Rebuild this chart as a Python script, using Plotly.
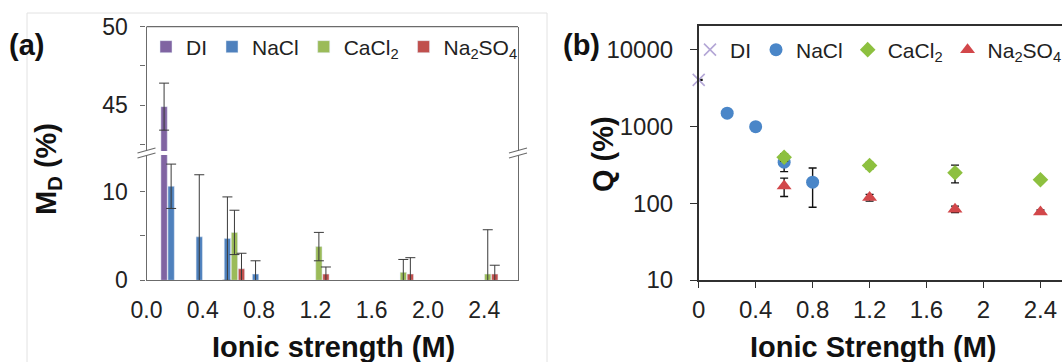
import plotly.graph_objects as go

W, H = 1062, 362

# ---------------- Panel (a): M_D (%) ----------------
ionic_di_a = [0.2]
md_di = [44.9]
md_di_err = [1.5]

ionic_nacl_a = [0.2, 0.4, 0.6, 0.8]
md_nacl = [10.6, 4.9, 4.7, 0.7]
md_nacl_err = [2.5, 7.0, 4.7, 1.5]

ionic_cacl2_a = [0.6, 1.2, 1.8, 2.4]
md_cacl2 = [5.4, 3.8, 0.9, 0.7]
md_cacl2_err = [2.5, 1.6, 1.45, 5.0]

ionic_na2so4_a = [0.6, 1.2, 1.8, 2.4]
md_na2so4 = [1.3, 0.7, 0.7, 0.7]
md_na2so4_err = [1.75, 0.8, 1.85, 1.0]

# ---------------- Panel (b): Q (%) ----------------
ionic_di_b = [0.0]
q_di = [4070]
q_di_err = [60]

ionic_nacl_b = [0.2, 0.4, 0.6, 0.8]
q_nacl = [1500, 1000, 344, 189]
q_nacl_err = [0, 0, 85, 100]

ionic_salt_b = [0.6, 1.2, 1.8, 2.4]
q_cacl2 = [399, 312, 250, 203]
q_cacl2_err = [45, 30, 65, 5]
q_na2so4 = [168, 119, 84, 77]
q_na2so4_err = [45, 12, 8, 5]

x_tickvals = [0, 0.4, 0.8, 1.2, 1.6, 2.0, 2.4]
x_ticktext_a = ["0.0", "0.4", "0.8", "1.2", "1.6", "2.0", "2.4"]
x_ticktext_b = ["0", "0.4", "0.8", "1.2", "1.6", "2", "2.4"]
y_tickvals_low = [0, 10]
y_minor_low = [5]
y_tickvals_up = [45, 50]
y_minor_up = [42.5, 47.5]
y_tickvals_b = [10, 100, 1000, 10000]
y_ticktext_b = ["10", "100", "1000", "10000"]

FONT = "Liberation Sans, Arial, sans-serif"
C_DI, C_NA, C_CA, C_SO = "#8064A2", "#4F81BD", "#9BBB59", "#C0504D"
C2_DI, C2_NA, C2_CA, C2_SO = "#B4A7D6", "#4A86C8", "#8DC03F", "#D2474A"
AX_A = "#6b6b6b"
AX_B = "#303030"


def px(x):
    return x / W


def py(y):
    return 1 - y / H


BW = 0.045          # bar width (M)
SLOT = 0.05         # group slot
offs = [-1.5 * SLOT - BW / 2, -0.5 * SLOT - BW / 2, 0.5 * SLOT - BW / 2, 1.5 * SLOT - BW / 2]

err_a = dict(type="data", visible=True, color="#3a3a3a", thickness=1, width=5)

fig = go.Figure()

# lower segment bars
fig.add_trace(go.Bar(x=ionic_di_a, y=md_di, width=BW, offset=offs[0], marker_color=C_DI,
                     name="DI", xaxis="x", yaxis="y", legend="legend"))
fig.add_trace(go.Bar(x=ionic_nacl_a, y=md_nacl, width=BW, offset=offs[1], marker_color=C_NA,
                     name="NaCl", xaxis="x", yaxis="y", legend="legend",
                     error_y=dict(array=md_nacl_err, **err_a)))
fig.add_trace(go.Bar(x=ionic_cacl2_a, y=md_cacl2, width=BW, offset=offs[2], marker_color=C_CA,
                     name="CaCl<sub>2</sub>", xaxis="x", yaxis="y", legend="legend",
                     error_y=dict(array=md_cacl2_err, **err_a)))
fig.add_trace(go.Bar(x=ionic_na2so4_a, y=md_na2so4, width=BW, offset=offs[3], marker_color=C_SO,
                     name="Na<sub>2</sub>SO<sub>4</sub>", xaxis="x", yaxis="y", legend="legend",
                     error_y=dict(array=md_na2so4_err, **err_a)))
# upper segment (DI only exceeds the break)
fig.add_trace(go.Bar(x=ionic_di_a, y=md_di, width=BW, offset=offs[0], marker_color=C_DI,
                     name="DI", showlegend=False, xaxis="x", yaxis="y3",
                     error_y=dict(array=md_di_err, **err_a)))

err_b = dict(type="data", visible=True, color="#111111", thickness=1.4, width=4)

fig.add_trace(go.Scatter(x=ionic_di_b, y=q_di, mode="markers", name="DI", cliponaxis=False,
                         marker=dict(symbol="x-thin", size=12, line=dict(width=1.6, color=C2_DI)),
                         error_y=dict(array=q_di_err, **err_b),
                         xaxis="x2", yaxis="y2", legend="legend2"))
fig.add_trace(go.Scatter(x=ionic_nacl_b, y=q_nacl, mode="markers", name="NaCl", cliponaxis=False,
                         marker=dict(symbol="circle", size=13, color=C2_NA),
                         error_y=dict(array=q_nacl_err, **err_b),
                         xaxis="x2", yaxis="y2", legend="legend2"))
fig.add_trace(go.Scatter(x=ionic_salt_b, y=q_cacl2, mode="markers", name="CaCl<sub>2</sub>", cliponaxis=False,
                         marker=dict(symbol="diamond", size=12, color=C2_CA),
                         error_y=dict(array=q_cacl2_err, **err_b),
                         xaxis="x2", yaxis="y2", legend="legend2"))
fig.add_trace(go.Scatter(x=ionic_salt_b, y=q_na2so4, mode="markers", name="Na<sub>2</sub>SO<sub>4</sub>", cliponaxis=False,
                         marker=dict(symbol="triangle-up", size=13, color=C2_SO),
                         error_y=dict(array=q_na2so4_err, **err_b),
                         xaxis="x2", yaxis="y2", legend="legend2"))

tickfont_a = dict(family=FONT, size=23, color="#222222")
tickfont_b = dict(family=FONT, size=24, color="#222222")

shapes = []
# faint image panel border around (a)
for (x0, y0, x1, y1) in [(27, 13, 27, 362), (27, 13, 547, 13), (547, 13, 547, 362)]:
    shapes.append(dict(type="line", xref="paper", yref="paper", x0=px(x0), y0=py(y0), x1=px(x1), y1=py(y1),
                       line=dict(color="#e2e2e2", width=1)))
# top frame line of (a)
shapes.append(dict(type="line", xref="paper", yref="paper", x0=px(146.5), x1=px(518), y0=py(26.7), y1=py(26.7),
                   line=dict(color=AX_A, width=1.3)))
# axis-break marks
for xb in (146.5, 518):
    for yb in (150.5, 155.5):
        shapes.append(dict(type="line", xref="paper", yref="paper", x0=px(xb - 9), y0=py(yb + 2.5),
                           x1=px(xb + 9), y1=py(yb - 2.5), line=dict(color=AX_A, width=1.2)))


def label(text, x, y, angle=0):
    return dict(text=text, x=px(x), y=py(y), xref="paper", yref="paper", showarrow=False,
                xanchor="center", yanchor="middle", textangle=angle,
                font=dict(family=FONT, size=29, color="#111111"))


ann = [
    label("<b>(a)</b>", 26, 45),
    label("<b>(b)</b>", 581, 45),
    label("<b>M<sub>D</sub> (%)</b>", 48, 169, -90),
    label("<b>Q (%)</b>", 603, 154, -90),
    label("<b>Ionic strength (M)</b>", 333, 347),
    label("<b>Ionic Strength (M)</b>", 873, 347),
]

fig.update_layout(
    width=W, height=H,
    margin=dict(l=0, r=0, t=0, b=0, autoexpand=False),
    paper_bgcolor="white", plot_bgcolor="rgba(0,0,0,0)",
    barmode="overlay",
    font=dict(family=FONT, color="#222222"),
    xaxis=dict(domain=[px(146.5), px(518)], range=[0, 2.64], anchor="y",
               tickvals=x_tickvals, ticktext=x_ticktext_a, tickfont=tickfont_a, ticks="",
               ticklabelstandoff=9, showline=True, linecolor=AX_A, linewidth=1.3,
               showgrid=False, zeroline=False, automargin=False),
    yaxis=dict(domain=[py(280.3), py(155)], range=[0, (280.3 - 155) / 8.87], anchor="x",
               tickvals=y_tickvals_low, tickfont=tickfont_a,
               ticks="outside", ticklen=5, tickcolor=AX_A, ticklabelstandoff=8,
               minor=dict(tickvals=y_minor_low, ticks="outside", ticklen=5, tickcolor=AX_A, showgrid=False),
               showline=True, mirror=True, linecolor=AX_A, linewidth=1.3,
               showgrid=False, zeroline=False, automargin=False),
    yaxis3=dict(domain=[py(151), py(26.7)], range=[45 - (151 - 105) / 15.7, 50], anchor="x",
                tickvals=y_tickvals_up, tickfont=tickfont_a,
                ticks="outside", ticklen=5, tickcolor=AX_A, ticklabelstandoff=8,
                minor=dict(tickvals=y_minor_up, ticks="outside", ticklen=5, tickcolor=AX_A, showgrid=False),
                showline=True, mirror=True, linecolor=AX_A, linewidth=1.3,
                showgrid=False, zeroline=False, automargin=False),
    xaxis2=dict(domain=[px(698.7), 1.0], range=[0, (1062 - 698.7) / 142.4], anchor="y2",
                tickvals=x_tickvals, ticktext=x_ticktext_b, tickfont=tickfont_b,
                ticks="outside", ticklen=6, tickcolor=AX_B, ticklabelstandoff=1,
                showline=True, mirror=True, linecolor=AX_B, linewidth=1.5,
                showgrid=False, zeroline=False, automargin=False),
    yaxis2=dict(domain=[py(280), py(26)], type="log", range=[1, 4 + 24 / 76.7], anchor="x2",
                tickvals=y_tickvals_b, ticktext=y_ticktext_b, tickfont=tickfont_b,
                ticks="outside", ticklen=7, tickcolor=AX_B, ticklabelstandoff=12,
                showline=True, linecolor=AX_B, linewidth=1.5,
                showgrid=False, zeroline=False, automargin=False),
    legend=dict(orientation="h", x=px(146), xanchor="left", y=py(47), yanchor="middle",
                font=dict(family=FONT, size=21, color="#222222"), bgcolor="rgba(0,0,0,0)",
                itemwidth=30, borderwidth=0),
    legend2=dict(orientation="h", x=px(690), xanchor="left", y=py(50), yanchor="middle",
                 font=dict(family=FONT, size=21, color="#222222"), bgcolor="rgba(0,0,0,0)",
                 itemwidth=30, borderwidth=0),
    shapes=shapes,
    annotations=ann,
)

fig.write_html("out.html")
